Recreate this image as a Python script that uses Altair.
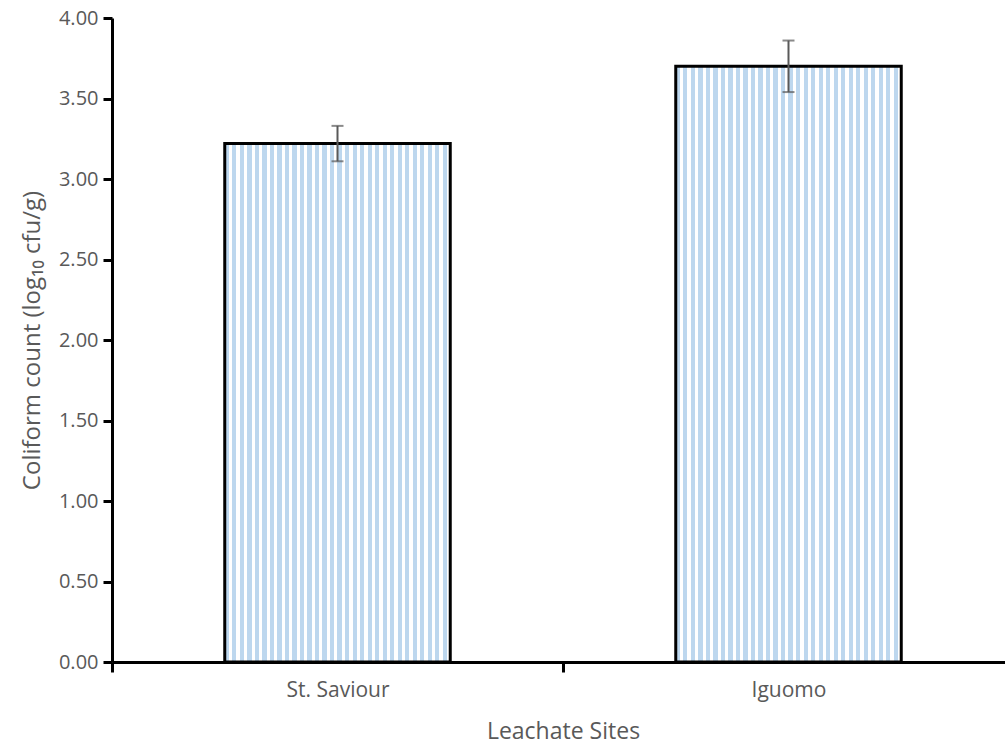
import altair as alt
import pandas as pd

sites = ["St. Saviour", "Iguomo"]
means = [3.22, 3.70]
errors = [0.11, 0.16]
y_ticks = [0, 0.5, 1.0, 1.5, 2.0, 2.5, 3.0, 3.5, 4.0]

df = pd.DataFrame({"site": sites, "mean": means, "err": errors})

FONT = "Open Sans"
GREY = "#595959"

# vertical stripe fill (light blue / white)
n_stripes = 30
stops = []
for i in range(n_stripes):
    a = i / n_stripes
    b = (i + 0.56) / n_stripes
    c = (i + 1) / n_stripes
    stops += [
        alt.GradientStop(offset=a, color="#bdd7ee"),
        alt.GradientStop(offset=b, color="#bdd7ee"),
        alt.GradientStop(offset=b, color="#ffffff"),
        alt.GradientStop(offset=c, color="#ffffff"),
    ]
stripe_fill = alt.LinearGradient(gradient="linear", stops=stops, x1=0, x2=1, y1=0, y2=0)

x_enc = alt.X(
    "site:N",
    sort=sites,
    scale=alt.Scale(range=[0, 902], paddingInner=0.5, paddingOuter=0.25),
    axis=alt.Axis(
        title="Leachate Sites",
        labelAngle=0,
        tickOffset=-225.5,
        labelOffset=225.5,
        labelFont=FONT,
        labelFontSize=21,
        labelColor=GREY,
        labelPadding=7,
        tickSize=10,
        tickWidth=3,
        tickColor="black",
        domainWidth=3,
        domainColor="black",
        titleFont=FONT,
        titleFontSize=23,
        titleFontWeight="normal",
        titleColor=GREY,
        titlePadding=20,
    ),
)

yscale = alt.Scale(domain=[0, 4], nice=False, zero=True)
yaxis = alt.Axis(
    title="Coliform count (log₁₀ cfu/g)",
    values=y_ticks,
    format=".2f",
    grid=False,
    labelFont=FONT,
    labelFontSize=20,
    labelColor=GREY,
    labelPadding=5,
    tickSize=9,
    tickWidth=3,
    tickColor="black",
    domainWidth=3,
    domainColor="black",
    titleFont=FONT,
    titleFontSize=24,
    titleFontWeight="normal",
    titleColor=GREY,
    titlePadding=14,
)

base = alt.Chart(df).transform_calculate(
    lo="datum.mean - datum.err", hi="datum.mean + datum.err"
)

bars = base.mark_bar(color=stripe_fill, stroke="black", strokeWidth=3).encode(
    x=x_enc, y=alt.Y("mean:Q", scale=yscale, axis=yaxis)
)
rule = base.mark_rule(color=GREY, strokeWidth=2).encode(
    x=x_enc, y=alt.Y("lo:Q", scale=yscale, axis=yaxis), y2="hi:Q"
)
tick_lo = base.mark_tick(color=GREY, thickness=2, size=12).encode(
    x=x_enc, y=alt.Y("lo:Q", scale=yscale, axis=yaxis)
)
tick_hi = base.mark_tick(color=GREY, thickness=2, size=12).encode(
    x=x_enc, y=alt.Y("hi:Q", scale=yscale, axis=yaxis)
)

chart = (
    alt.layer(bars, rule, tick_lo, tick_hi)
    .properties(
        width=893,
        height=644,
        padding={"left": 112, "top": 18, "right": 0, "bottom": 89},
        autosize=alt.AutoSizeParams(type="none"),
    )
    .configure_view(stroke=None)
)

chart.save("out.html", embed_options={"renderer": "svg", "actions": False})
